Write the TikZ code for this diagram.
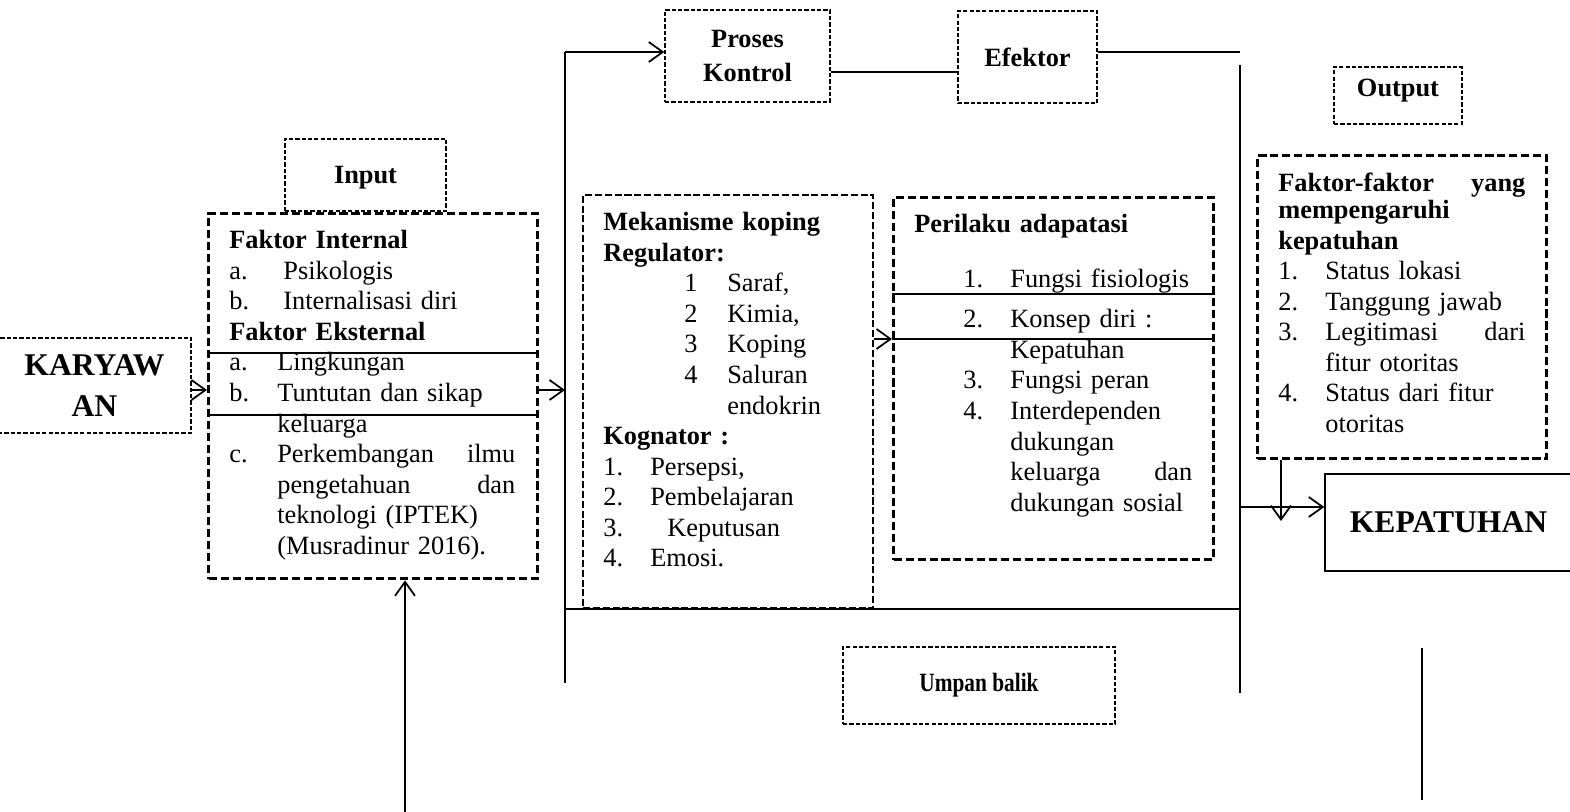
\documentclass[tikz,border=0pt]{standalone}
\usepackage{fontspec}
\setmainfont{Liberation Serif}
\usetikzlibrary{arrows.meta}
\newlength{\pxu}\setlength{\pxu}{0.02cm}
\newcommand{\lbl}[2]{\makebox[#1\pxu][l]{#2}}
\newcommand{\ind}[1]{\hspace*{#1\pxu}}

\begin{document}
\begin{tikzpicture}[x=0.02cm, y=-0.02cm,
    thinbox/.style={draw, line width=0.8pt, dash pattern=on 2.4pt off 1.2pt, inner sep=0pt},
    midbox/.style={draw, line width=1.2pt, dash pattern=on 4pt off 1.6pt, inner sep=0pt},
    thickbox/.style={draw, line width=1.9pt, dash pattern=on 4.6pt off 2.2pt, inner sep=0pt},
    solidbox/.style={draw, line width=0.8pt, inner sep=0pt},
    head/.style={font=\fontsize{15}{19.3}\selectfont\bfseries, align=center},
    big/.style={font=\fontsize{18}{23.5}\selectfont\bfseries, align=center},
    body/.style={font=\fontsize{15}{17.4}\selectfont, align=left, inner sep=0pt, anchor=north west},
    ln/.style={line width=1pt},
    arr/.style={ln, -{Straight Barb[length=2.8mm, width=4mm]}}]
  \useasboundingbox (0,0) rectangle (1570,812);

  % boxes
  \node[thinbox, big, minimum width=193\pxu, minimum height=95\pxu] (karyawan) at (94.5,385.5) {KARYAW\\AN};
  \node[thinbox, head, minimum width=161\pxu, minimum height=72\pxu, text depth=0pt] (input) at (365.5,175) {Input};
  \node[thickbox, minimum width=329\pxu, minimum height=365\pxu, anchor=north west] (inbox) at (207,212) {};
  \node[thinbox, head, minimum width=165\pxu, minimum height=92\pxu] (kontrol) at (747.5,56) {Proses\\Kontrol};
  \node[thinbox, head, minimum width=139\pxu, minimum height=92\pxu] (efektor) at (1027.5,57) {Efektor};
  \node[midbox, minimum width=290\pxu, minimum height=413\pxu, anchor=north west] (koping) at (582,194) {};
  \node[thickbox, minimum width=320\pxu, minimum height=362\pxu, anchor=north west] (adaptasi) at (892,196) {};
  \node[thinbox, head, minimum width=128\pxu, minimum height=57\pxu, text depth=0.3cm] (output) at (1398,95.5) {Output};
  \node[thickbox, minimum width=289\pxu, minimum height=303\pxu, anchor=north west] (faktor) at (1256,154) {};
  \node[solidbox, big, minimum width=247\pxu, minimum height=97\pxu] (patuh) at (1448.5,522.5) {KEPATUHAN};
  \node[thinbox, head, minimum width=272\pxu, minimum height=77\pxu] (umpan) at (979,685.5) {\scalebox{0.81}[1]{Umpan balik}};

  % box texts
  \node[body, text width=286\pxu] (intext) at (229,230) {\textbf{Faktor Internal}\\
    \lbl{54}{a.}Psikologis\\
    \lbl{54}{b.}Internalisasi diri\\
    \textbf{Faktor Eksternal}\\
    \lbl{48}{a.}Lingkungan\\
    \lbl{48}{b.}Tuntutan dan sikap\\
    \ind{48}keluarga\\
    \lbl{48}{c.}Perkembangan\hfill ilmu\\
    \ind{48}pengetahuan\hfill dan\\
    \ind{48}teknologi (IPTEK)\\
    \ind{48}(Musradinur 2016).};
  \node[body, text width=260\pxu] (kopingtext) at (603,212) {\textbf{Mekanisme koping}\\
    \textbf{Regulator:}\\
    \ind{81}\lbl{43}{1}Saraf,\\
    \ind{81}\lbl{43}{2}Kimia,\\
    \ind{81}\lbl{43}{3}Koping\\
    \ind{81}\lbl{43}{4}Saluran\\
    \ind{124}endokrin\\
    \textbf{Kognator :}\\
    \lbl{47}{1.}Persepsi,\\
    \lbl{47}{2.}Pembelajaran\\
    \lbl{47}{3.}\ind{17}Keputusan\\
    \lbl{47}{4.}Emosi.};
  \node[body, text width=278\pxu] (adaptasitext) at (914,214) {\textbf{Perilaku adapatasi}\\[24\pxu]
    \ind{49}\lbl{47}{1.}Fungsi fisiologis\\[10\pxu]
    \ind{49}\lbl{47}{2.}Konsep diri :\\
    \ind{96}Kepatuhan\\
    \ind{49}\lbl{47}{3.}Fungsi peran\\
    \ind{49}\lbl{47}{4.}Interdependen\\
    \ind{96}dukungan\\
    \ind{96}keluarga\hfill dan\\
    \ind{96}dukungan sosial};
  \node[body, text width=247\pxu] (faktortext) at (1278,173) {\textbf{Faktor-faktor\hfill yang}\\[-4\pxu]
    \textbf{mempengaruhi}\\
    \textbf{kepatuhan}\\
    \lbl{47}{1.}Status lokasi\\
    \lbl{47}{2.}Tanggung jawab\\
    \lbl{47}{3.}Legitimasi\hfill dari\\
    \ind{47}fitur otoritas\\
    \lbl{47}{4.}Status dari fitur\\
    \ind{47}otoritas};

  % helper points
  \coordinate (lt) at (565,52);
  \coordinate (lb) at (565,683);
  \coordinate (rt) at (1240,52);
  \coordinate (rtop) at (1240,65);
  \coordinate (rbot) at (1240,693);
  \coordinate (row0) at (0,72);
  \coordinate (row1) at (0,390);
  \coordinate (row2) at (0,339);
  \coordinate (row3) at (0,294);
  \coordinate (row4) at (0,507);
  \coordinate (cut1) at (0,353);
  \coordinate (cut2) at (0,415);
  \coordinate (feed) at (405,812);
  \coordinate (fkend) at (1281,521);
  \coordinate (rl1) at (1422,648);
  \coordinate (rl2) at (1422,800);

  % lines across boxes
  \draw[ln] (inbox.west |- cut1) -- ([xshift=-3\pxu]inbox.east |- cut1);
  \draw[ln] (inbox.west |- cut2) -- ([xshift=-3\pxu]inbox.east |- cut2);
  \draw[ln] (adaptasi.west |- row3) -- (adaptasi.east |- row3);
  \draw[ln] (adaptasi.west |- row2) -- (adaptasi.east |- row2);

  % connectors
  \draw[arr] (karyawan.east |- row1) -- (inbox.west |- row1);
  \draw[arr] (inbox.east |- row1) -- (lt |- row1);
  \draw[ln] (lb) -- (lt);
  \draw[arr] (lt) -- (kontrol.west |- lt);
  \draw[ln] (kontrol.east |- row0) -- (efektor.west |- row0);
  \draw[ln] (efektor.east |- lt) -- (rt);
  \draw[ln] (rtop) -- (rbot);
  \draw[ln] (lt |- koping.south) -- (rtop |- koping.south);
  \draw[arr] (koping.east |- row2) -- (adaptasi.west |- row2);
  \draw[arr] (feed) -- (feed |- inbox.south);
  \draw[arr] (fkend |- faktor.south) -- (fkend);
  \draw[arr] (rtop |- row4) -- (patuh.west |- row4);
  \draw[ln] (rl1) -- (rl2);
\end{tikzpicture}
\end{document}
